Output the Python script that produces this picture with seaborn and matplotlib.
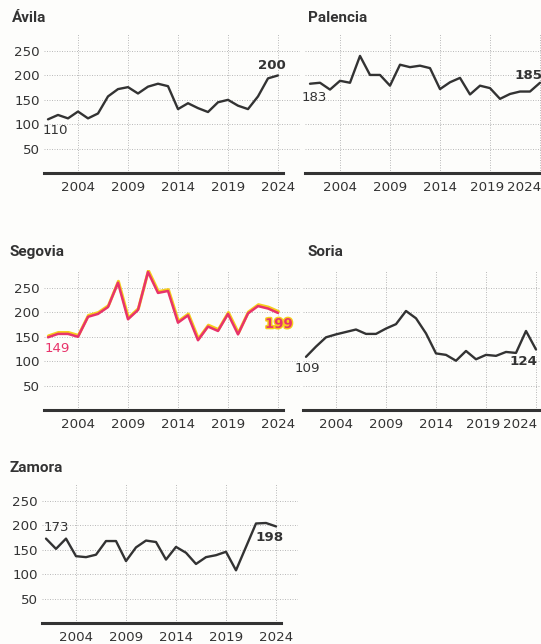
import numpy as np
import pandas as pd
import matplotlib
matplotlib.use("Agg")
import matplotlib.pyplot as plt
import matplotlib.patheffects as pe
import matplotlib.transforms as mtrans
import seaborn as sns

years = list(range(2001, 2025))

avila = [110, 119, 112, 126, 112, 122, 157, 172, 176, 163, 177, 183,
         178, 131, 143, 133, 125, 145, 150, 138, 131, 157, 194, 200]
palencia = [183, 185, 171, 189, 185, 240, 201, 201, 179, 222, 217, 220,
            215, 172, 186, 195, 161, 179, 174, 152, 162, 167, 167, 185]
segovia = [149, 156, 156, 150, 191, 197, 211, 261, 186, 205, 283, 240,
           244, 179, 194, 143, 171, 162, 197, 155, 198, 213, 208, 199]
soria = [109, 130, 149, 155, 160, 165, 156, 156, 167, 176, 203, 188,
         157, 116, 113, 101, 121, 104, 113, 111, 119, 117, 162, 124]
zamora = [173, 152, 173, 137, 135, 140, 168, 168, 127, 155, 169, 166,
          130, 156, 144, 121, 135, 139, 146, 108, 156, 204, 205, 198]

titles = ["Ávila", "Palencia", "Segovia", "Soria", "Zamora"]
series = [avila, palencia, segovia, soria, zamora]
xticks = [2004, 2009, 2014, 2019, 2024]
yticks = [50, 100, 150, 200, 250]

W, H = 541, 644
DARK = "#333333"
RED = "#e8336a"
YELLOW = "#f5cf1c"
NUMFONT = ["DejaVu Sans"]
FS = 9.6

sns.set_style("white")
plt.rcParams["font.family"] = ["Roboto", "DejaVu Sans"]

fig = plt.figure(figsize=(W / 100, H / 100), dpi=100)
fig.patch.set_facecolor("#fdfdfb")

# (left px, baseline px, title x px, title y px, xlim start)
layout = [
    (44, 173, 12, 18, 2000.6),
    (305, 173, 308, 18, 2000.5),
    (44, 410, 10, 252, 2000.6),
    (303, 410, 307, 252, 2000.7),
    (42, 623, 9, 468, 2000.6),
]
# label offsets in px: (first dx, dy, ha, va), (last dx, dy, ha, va)
label_pos = [
    ((-5, -5, "left", "top"), (-6, 3, "center", "bottom")),
    ((4, -7, "center", "top"), (2, 1, "right", "bottom")),
    ((-3, -5, "left", "top"), (1, -5, "center", "top")),
    ((1, -5, "center", "top"), (1, -5, "right", "top")),
    ((-2, 5, "left", "bottom"), (-7, -5, "center", "top")),
]

px = 0.72  # points per pixel at 100 dpi

for i, (title, vals) in enumerate(zip(titles, series)):
    left, base, tx, ty, x0 = layout[i]
    ax = fig.add_axes([left / W, 1 - base / H, 256 / W, 140 / H])
    ax.set_facecolor("none")
    df = pd.DataFrame({"year": years, "value": vals})

    if title == "Segovia":
        sns.lineplot(data=df, x="year", y="value", ax=ax, color=RED, lw=1.8,
                     solid_joinstyle="round",
                     path_effects=[pe.Stroke(linewidth=2.2, foreground=YELLOW, offset=(0.3, 1.0)),
                                   pe.Normal()], zorder=3)
        col = RED
    else:
        sns.lineplot(data=df, x="year", y="value", ax=ax, color=DARK, lw=1.7,
                     solid_joinstyle="round", zorder=3)
        col = DARK

    ax.set_xlim(x0, x0 + 25.6)
    ax.set_ylim(0, 287)
    ax.set_xticks(xticks)
    ax.set_yticks(yticks)
    ax.set_xlabel("")
    ax.set_ylabel("")
    ax.grid(True, linestyle=(0, (1.2, 1.8)), color="#b0b0b0", lw=0.6)
    for s in ["top", "right", "left"]:
        ax.spines[s].set_visible(False)
    ax.spines["bottom"].set_color(DARK)
    ax.spines["bottom"].set_linewidth(2.2)
    ax.spines["bottom"].set_bounds(x0, 2024.5)
    ax.spines["bottom"].set_zorder(4)
    ax.tick_params(axis="both", length=0, labelsize=FS, labelcolor=DARK)
    ax.tick_params(axis="x", pad=6)
    ax.tick_params(axis="y", pad=3)
    for lab in ax.get_xticklabels() + ax.get_yticklabels():
        lab.set_family(NUMFONT)
    if i % 2 == 1:
        ax.set_yticklabels([])
        # squeeze the last two years so they fit on the page
        labs = ax.get_xticklabels()
        labs[-2].set_transform(labs[-2].get_transform()
                               + mtrans.ScaledTranslation(-3 / 100, 0, fig.dpi_scale_trans))
        labs[-1].set_horizontalalignment("right")
        labs[-1].set_transform(labs[-1].get_transform()
                               + mtrans.ScaledTranslation(1 / 100, 0, fig.dpi_scale_trans))

    fig.text(tx / W, 1 - ty / H, title, fontsize=11, fontweight="bold",
             color=DARK, ha="left", va="center")

    (fdx, fdy, fha, fva), (ldx, ldy, lha, lva) = label_pos[i]
    ax.annotate(str(vals[0]), (years[0], vals[0]), xytext=(fdx * px, fdy * px),
                textcoords="offset points", ha=fha, va=fva, fontsize=FS,
                family=NUMFONT, color=col, annotation_clip=False)
    last_fx = []
    if title == "Segovia":
        last_fx = [pe.withStroke(linewidth=2.0, foreground=YELLOW)]
    ax.annotate(str(vals[-1]), (years[-1], vals[-1]), xytext=(ldx * px, ldy * px),
                textcoords="offset points", ha=lha, va=lva, fontsize=FS,
                family=NUMFONT, fontweight="bold", color=col, path_effects=last_fx,
                annotation_clip=False)

fig.savefig("out.png", dpi=100, facecolor=fig.get_facecolor())
